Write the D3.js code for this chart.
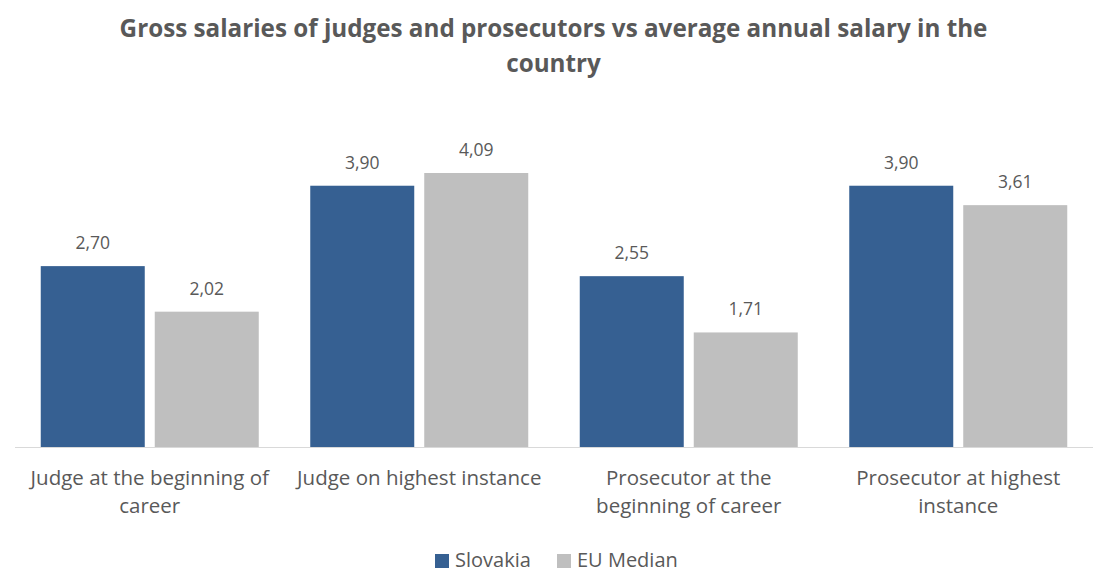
<!DOCTYPE html>
<html><head><meta charset="utf-8">
<script src="https://cdn.jsdelivr.net/npm/d3@7"></script>
<style>body{margin:0;background:#fff}</style>
</head><body>
<svg id="c" width="1107" height="575"></svg>
<script>
const categories = [
  ["Judge at the beginning of", "career"],
  ["Judge on highest instance"],
  ["Prosecutor at the", "beginning of career"],
  ["Prosecutor at highest", "instance"]
];
const seriesNames = ["Slovakia", "EU Median"];
const slovakia = [2.70, 3.90, 2.55, 3.90];
const euMedian = [2.02, 4.09, 1.71, 3.61];
const titleLines = ["Gross salaries of judges and prosecutors vs average annual salary in the", "country"];
const colors = ["#366092", "#BFBFBF"];

const svg = d3.select("#c");
const font = "'Open Sans', sans-serif";
const textColor = "#595959";

function fit(sel, target) {
  const n = sel.node();
  const len = n.getComputedTextLength();
  const fs = parseFloat(sel.attr("font-size"));
  sel.attr("font-size", fs * target / len);
  return fs * target / len;
}

// Title
const t1 = svg.append("text").attr("x", 553.5).attr("y", 37).attr("text-anchor", "middle")
  .attr("font-family", font).attr("font-weight", "bold").attr("font-size", 21).attr("fill", textColor)
  .text(titleLines[0]);
const tfs = fit(t1, 868);
svg.append("text").attr("x", 553.5).attr("y", 72).attr("text-anchor", "middle")
  .attr("font-family", font).attr("font-weight", "bold").attr("font-size", tfs).attr("fill", textColor)
  .text(titleLines[1]);

const x0 = d3.scaleBand().domain(d3.range(categories.length)).range([15, 1093]).paddingInner(0).paddingOuter(0);
const x1 = d3.scaleBand().domain([0, 1]).range([25.75, x0.bandwidth() - 25.75]).paddingInner(10/114).paddingOuter(0);
const y = d3.scaleLinear().domain([0, 4.09]).range([447, 173]);

// axis line
svg.append("line").attr("x1", 15).attr("x2", 1093).attr("y1", y(0) + 0.5).attr("y2", y(0) + 0.5)
  .attr("stroke", "#D9D9D9").attr("stroke-width", 1);

const data = [slovakia, euMedian];
const fmt = v => d3.format(".2f")(v).replace(".", ",");

data.forEach((vals, s) => {
  const g = svg.append("g");
  g.selectAll("rect").data(vals).join("rect")
    .attr("x", (d, i) => x0(i) + x1(s))
    .attr("width", x1.bandwidth())
    .attr("y", d => y(d))
    .attr("height", d => y(0) - y(d))
    .attr("fill", colors[s]);
  g.selectAll("text").data(vals).join("text")
    .attr("x", (d, i) => x0(i) + x1(s) + x1.bandwidth() / 2)
    .attr("y", d => y(d) - 17)
    .attr("text-anchor", "middle")
    .attr("font-family", font).attr("font-size", 17.5).attr("fill", textColor)
    .text(d => fmt(d));
});

// category labels
const cg = svg.append("g");
categories.forEach((lines, i) => {
  lines.forEach((ln, j) => {
    cg.append("text").attr("x", x0(i) + x0.bandwidth() / 2).attr("y", 485 + j * 28)
      .attr("text-anchor", "middle").attr("font-family", font).attr("font-size", 20.5)
      .attr("fill", textColor).text(ln);
  });
});

// legend
const lg = svg.append("g");
const lx = [435, 557];
seriesNames.forEach((n, i) => {
  lg.append("rect").attr("x", lx[i]).attr("y", 554).attr("width", 14).attr("height", 14).attr("fill", colors[i]);
  lg.append("text").attr("x", lx[i] + 20).attr("y", 567).attr("font-family", font).attr("font-size", 20)
    .attr("fill", textColor).text(n);
});
</script>
</body></html>
